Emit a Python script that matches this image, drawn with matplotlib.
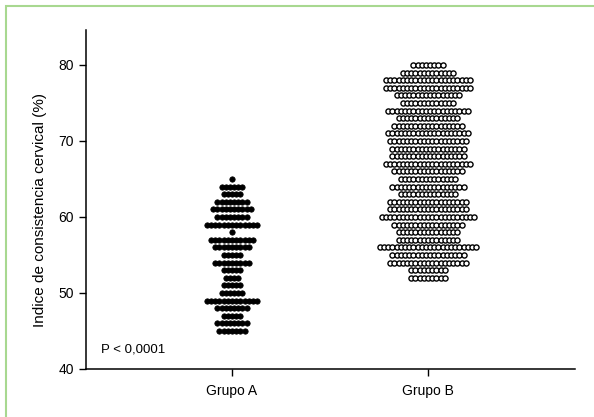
import numpy as np
import matplotlib.pyplot as plt
from matplotlib.patches import Rectangle

plt.rcParams['font.family'] = ['Liberation Sans', 'DejaVu Sans']

# values (%) and number of patients at each value
values_a = [65, 64, 63, 62, 61, 60, 59, 58, 57, 56, 55, 54, 53, 52, 51, 50, 49, 48, 47, 46, 45]
counts_a = [1, 6, 5, 8, 10, 8, 13, 1, 11, 9, 5, 9, 5, 4, 5, 6, 13, 8, 5, 8, 7]

values_b = [80, 79, 78, 77, 76, 75, 74, 73, 72, 71, 70, 69, 68, 67, 66,
            65, 64, 63, 62, 61, 60, 59, 58, 57, 56, 55, 54, 53, 52]
counts_b = [8, 13, 21, 21, 16, 13, 20, 15, 17, 20, 19, 18, 18, 21, 17,
            14, 18, 14, 19, 19, 23, 17, 15, 15, 24, 18, 19, 9, 9]

groups = ['Grupo A', 'Grupo B']
p_text = 'P < 0,0001'

step = 0.0214  # horizontal gap between neighbouring dots


def swarm(center, values, counts):
    xs, ys = [], []
    for v, n in zip(values, counts):
        off = (np.arange(n) - (n - 1) / 2) * step
        xs.extend(center + off)
        ys.extend([v] * n)
    return np.array(xs), np.array(ys)


fig = plt.figure(figsize=(5.94, 4.17), dpi=100)
ax = fig.add_axes([86 / 594, 1 - 369 / 417, (575 - 86) / 594, (369 - 30) / 417])

xa, ya = swarm(1, values_a, counts_a)
xb, yb = swarm(2, values_b, counts_b)
ax.plot(xa, ya, 'o', ms=3.9, color='black', mec='black', mew=0.5, clip_on=False)
ax.plot(xb, yb, 'o', ms=3.7, mfc='white', mec='black', mew=1.0, clip_on=False)

ax.set_xlim(0.255, 2.75)
ax.set_ylim(40, 84.6)
ax.set_yticks([40, 50, 60, 70, 80])
ax.set_xticks([1, 2])
ax.set_xticklabels(groups, fontsize=10)
ax.tick_params(axis='y', labelsize=10, length=5, width=1)
ax.tick_params(axis='x', length=5, width=1, pad=6)
ax.set_ylabel('Indice de consistencia cervical (%)', fontsize=11)
ax.yaxis.set_label_coords(-0.08, 0.47)

for s in ['top', 'right']:
    ax.spines[s].set_visible(False)
for s in ['left', 'bottom']:
    ax.spines[s].set_linewidth(1.1)

ax.text(0.33, 42.5, p_text, fontsize=9.5, va='center', ha='left')

# light green frame around the picture
fig.patches.append(Rectangle((6 / 594, -0.1), 1.2, 1 - 6 / 417 + 0.1,
                             transform=fig.transFigure, fill=False,
                             edgecolor='#a8d890', linewidth=1.5))

fig.savefig('out.png', dpi=100)
